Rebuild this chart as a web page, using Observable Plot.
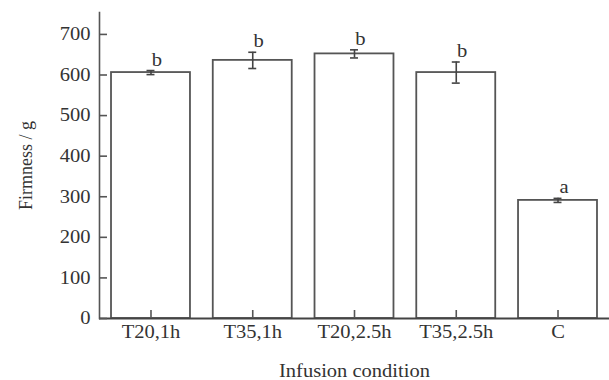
<!DOCTYPE html>
<html><head><meta charset="utf-8">
<script src="https://cdn.jsdelivr.net/npm/d3@7"></script>
<script src="https://cdn.jsdelivr.net/npm/@observablehq/plot@0.6"></script>
<style>
body{margin:0;background:#fff}
svg{font-family:"Liberation Serif","Times New Roman",serif}
</style>
</head><body><div id="chart"></div>
<script>
const conditions = ["T20,1h", "T35,1h", "T20,2.5h", "T35,2.5h", "C"];
const firmness = [606, 636, 652, 606, 291];
const errors = [5, 20, 10, 26, 5];
const letters = ["b", "b", "b", "b", "a"];
const yTicks = [0, 100, 200, 300, 400, 500, 600, 700];

const data = conditions.map((c, i) => ({c, v: firmness[i], e: errors[i], l: letters[i]}));

const W = 609, H = 380, ML = 99, MR = 0, MT = 12, MB = 62, TICK = 8;

const plot = Plot.plot({
  width: W, height: H,
  marginLeft: ML, marginRight: MR, marginTop: MT, marginBottom: MB,
  style: {fontFamily: "Liberation Serif", fontSize: "18px", color: "#333", background: "#fff"},
  x: {domain: conditions, paddingInner: 0.224, paddingOuter: 0.118, round: false},
  y: {domain: [0, 754]},
  marks: [
    Plot.barY(data, {x: "c", y: "v", fill: "white", stroke: "#555", strokeWidth: 1.8}),
    Plot.ruleX(data, {x: "c", y1: d => d.v - d.e, y2: d => d.v + d.e, stroke: "#444", strokeWidth: 1.6}),
    Plot.tickY(data, {x: "c", y: d => d.v - d.e, stroke: "#444", strokeWidth: 1.6, insetLeft: 35.5, insetRight: 35.5}),
    Plot.tickY(data, {x: "c", y: d => d.v + d.e, stroke: "#444", strokeWidth: 1.6, insetLeft: 35.5, insetRight: 35.5}),
    Plot.text(data, {x: "c", y: d => d.v + d.e, text: "l", dx: 6, dy: -5, lineAnchor: "bottom", fontSize: 18, fill: "#333"}),
    // axis lines
    Plot.frame({anchor: "left", stroke: "#555", strokeWidth: 1.6}),
    Plot.ruleY([0], {stroke: "#444", strokeWidth: 1.8}),
    // inward tick marks
    Plot.tickY(yTicks, {y: d => d, stroke: "#555", strokeWidth: 1.6, insetRight: (W - ML - MR) - TICK}),
    Plot.tickX(conditions, {x: d => d, stroke: "#555", strokeWidth: 1.6, insetTop: (H - MT - MB) - TICK}),
    Plot.axisY({ticks: yTicks, tickSize: 0, tickPadding: 9,
      label: "Firmness / g", labelAnchor: "center", labelOffset: 80, labelArrow: "none", fontSize: 18}),
    Plot.axisX({tickSize: 0, tickPadding: 7,
      label: "Infusion condition", labelAnchor: "center", labelOffset: 58, labelArrow: "none", fontSize: 18})
  ]
});
document.getElementById("chart").appendChild(plot);

// the reference type is slightly wider than the installed serif: widen horizontal texts
plot.querySelectorAll("text").forEach(t => {
  const tr = t.getAttribute("transform") || "";
  const parentTr = (t.parentNode.getAttribute && t.parentNode.getAttribute("transform")) || "";
  if (/rotate/.test(tr) || /rotate/.test(parentTr)) return;
  if (!t.textContent.trim()) return;
  const L = t.getComputedTextLength();
  t.setAttribute("textLength", (L * 1.14).toFixed(1));
  t.setAttribute("lengthAdjust", "spacingAndGlyphs");
});
</script>
</body></html>
